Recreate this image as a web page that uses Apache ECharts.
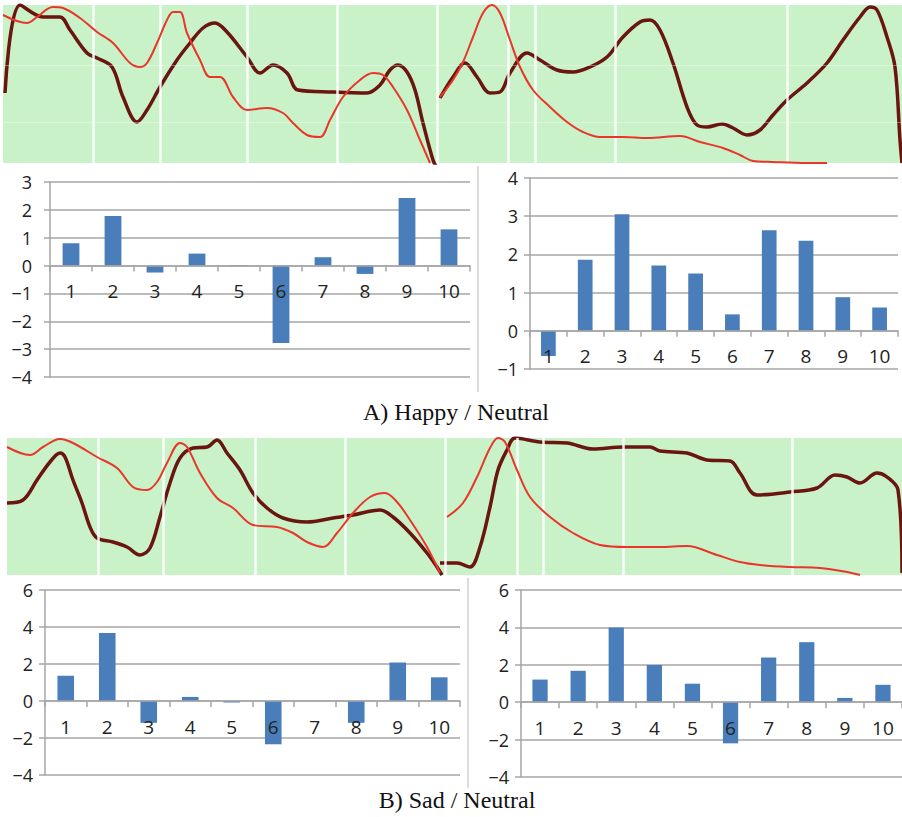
<!DOCTYPE html>
<html><head><meta charset="utf-8">
<script src="https://cdn.jsdelivr.net/npm/echarts@6/dist/echarts.min.js"></script>
<style>html,body{margin:0;padding:0;background:#fff}#c{width:902px;height:817px}</style>
</head><body><div id="c"></div>
<script>
// ---- top strips: time (frames) and normalized intensity ----
const tAL_d = [5,20,43,60,70,87,97,112,123,137,147,160,177,190,203,215,227,247,260,273,287,298,333,367,380,390,398,407,415,423,433,437];
const vAL_d = [70,158,146,146,133,110,105,96,66,41,53,76,103,120,135,140,131,106,90,98,90,73,71,70,78,93,98,91,73,40,3,-5];
const tAL_r = [3,27,37,53,63,80,97,113,130,140,147,157,167,173,180,187,200,210,220,233,247,267,283,293,307,320,330,343,360,373,383,393,407,420,430];
const vAL_r = [148,140,146,156,155,145,131,120,100,96,100,120,143,151,151,130,103,86,86,66,53,55,50,40,28,26,43,66,83,90,88,76,53,23,0];
const tAR_d = [440,453,465,477,490,500,510,527,540,557,573,590,607,623,640,650,660,673,687,697,707,722,733,747,760,773,787,807,827,843,860,870,877,887,895,900,902];
const vAR_d = [65,86,100,86,70,71,90,110,103,93,91,96,106,126,141,143,133,100,56,38,36,39,35,28,33,48,63,80,100,123,146,156,153,126,96,23,0];
const tAR_r = [440,453,463,473,483,492,500,510,520,533,550,567,583,600,623,647,680,700,723,740,753,773,807,827];
const vAR_r = [66,83,101,126,150,158,150,123,96,73,56,41,31,26,26,25,27,21,15,8,2,1,0,0];

const tBL_d = [7,23,37,50,60,65,73,82,90,97,113,127,140,150,160,170,180,193,207,217,227,240,253,267,283,307,333,353,380,393,410,427,437,442];
const vBL_d = [72,75,95,113,122,118,95,72,48,37,33,28,20,27,58,92,117,127,128,135,122,105,82,67,57,53,57,60,65,58,42,22,8,0];
const tBL_r = [7,30,43,60,73,97,117,133,147,157,167,180,187,200,217,233,253,277,293,307,323,337,353,370,385,397,410,427,440];
const vBL_r = [128,120,128,136,132,118,107,88,85,93,112,132,128,102,77,67,50,48,42,33,28,42,62,78,82,73,55,28,2];
const tBR_d = [440,457,470,480,490,498,507,515,540,567,593,623,650,660,687,707,730,740,757,790,817,835,847,860,877,887,898,902];
const vBR_d = [12,12,8,28,68,105,125,137,133,132,126,128,128,124,122,115,114,102,80,83,87,100,98,92,102,98,85,2];
const tBR_r = [447,463,477,490,498,505,517,530,550,573,600,627,660,687,717,740,760,790,820,847,860];
const vBR_r = [58,72,98,127,137,133,105,78,58,42,30,28,28,29,20,13,10,8,7,3,0];

const stripGridA = [93,160,247,337,437,508,535,615,787];
const stripGridB = [98,163,255,345,445,517,543,623,792];
const stripHGridA = [41,98];

// ---- bar charts ----
const categories = ['1','2','3','4','5','6','7','8','9','10'];
const happyLeft  = [0.8,1.78,-0.25,0.43,0.02,-2.78,0.3,-0.3,2.43,1.3];
const happyRight = [-0.66,1.86,3.05,1.71,1.5,0.43,2.63,2.36,0.88,0.61];
const sadLeft    = [1.37,3.68,-1.18,0.22,-0.08,-2.34,0,-1.18,2.08,1.28];
const sadRight   = [1.21,1.68,4.0,1.99,0.99,-2.2,2.39,3.21,0.23,0.93];

const DARK = '#6a1510', RED = '#e8362a', BLUE = '#4a7ebb', GRAY = '#a6a6a6';
const zip = (t, v) => t.map((x, i) => [x, v[i]]);
const neg = v => String(v).replace('-', '\u2212');

function lineSeries(xi, t, v, color, w, extra) {
  return Object.assign({
    type: 'line', xAxisIndex: xi, yAxisIndex: xi, data: zip(t, v),
    showSymbol: false, smooth: 0.35, clip: true, silent: true,
    lineStyle: { color: color, width: w }, z: w > 3 ? 4 : 5
  }, extra || {});
}
function vLines(arr) {
  return { silent: true, symbol: 'none', label: { show: false },
    lineStyle: { color: '#ffffff', width: 2.5, type: 'solid', opacity: 0.9 },
    data: arr.map(x => ({ xAxis: x })) };
}
const barGrids = [
  { left: 50, top: 182, width: 420, height: 195 },
  { left: 530, top: 178, width: 368, height: 191 },
  { left: 45, top: 590, width: 415, height: 185 },
  { left: 521, top: 590, width: 387, height: 187 }
];
function barAxes(k, min, max, interval) {
  const g = barGrids[k];
  // place the category axis (line, ticks, labels) at the value 0
  const off = -g.height * (0 - min) / (max - min);
  return {
    x: { type: 'category', gridIndex: k + 2, data: categories, z: 6, position: 'bottom', offset: off,
      axisLine: { onZero: false, lineStyle: { color: GRAY, width: 1.5 } },
      axisTick: { show: true, length: 6, lineStyle: { color: GRAY, width: 1.5 } },
      axisLabel: { fontSize: 19, color: '#222', margin: 16, fontFamily: 'Open Sans' },
      splitLine: { show: false } },
    y: { type: 'value', gridIndex: k + 2, min: min, max: max, interval: interval,
      axisLine: { show: true, lineStyle: { color: GRAY, width: 1.5 } },
      axisTick: { show: true, length: 6, lineStyle: { color: GRAY, width: 1.5 } },
      splitLine: { show: true, lineStyle: { color: GRAY, width: 1.5 } },
      axisLabel: { fontSize: 18, color: '#222', margin: 12, fontFamily: 'Open Sans', formatter: neg } }
  };
}
const bA1 = barAxes(0, -4, 3, 1), bA2 = barAxes(1, -1, 4, 1), bB1 = barAxes(2, -4, 6, 2), bB2 = barAxes(3, -4, 6, 2);
bA1.y.axisLabel.margin = 18;

const chart = echarts.init(document.getElementById('c'), null, { renderer: 'svg' });
chart.setOption({
  animation: false,
  backgroundColor: '#ffffff',
  grid: [
    { left: 3, top: 5, width: 899, height: 158, show: true, backgroundColor: '#c9f2c9', borderWidth: 0 },
    { left: 7, top: 438, width: 895, height: 137, show: true, backgroundColor: '#c9f2c9', borderWidth: 0 }
  ].concat(barGrids),
  xAxis: [
    { type: 'value', gridIndex: 0, min: 3, max: 902, show: false },
    { type: 'value', gridIndex: 1, min: 7, max: 902, show: false },
    bA1.x, bA2.x, bB1.x, bB2.x
  ],
  yAxis: [
    { type: 'value', gridIndex: 0, min: 0, max: 158, show: false },
    { type: 'value', gridIndex: 1, min: 0, max: 137, show: false },
    bA1.y, bA2.y, bB1.y, bB2.y
  ],
  series: [
    lineSeries(0, tAL_d, vAL_d, DARK, 3.5, { markLine: vLines(stripGridA) }),
    lineSeries(0, tAL_r, vAL_r, RED, 2, { markLine: { silent: true, symbol: 'none', label: { show: false },
      lineStyle: { color: '#ffffff', width: 1, type: 'solid', opacity: 0.35 },
      data: stripHGridA.map(y => ({ yAxis: y })) } }),
    lineSeries(0, tAR_d, vAR_d, DARK, 3.5),
    lineSeries(0, tAR_r, vAR_r, RED, 2),
    lineSeries(1, tBL_d, vBL_d, DARK, 3.5, { markLine: vLines(stripGridB) }),
    lineSeries(1, tBL_r, vBL_r, RED, 2),
    lineSeries(1, tBR_d, vBR_d, DARK, 3.5),
    lineSeries(1, tBR_r, vBR_r, RED, 2),
    { type: 'bar', xAxisIndex: 2, yAxisIndex: 2, data: happyLeft, barWidth: '40%', itemStyle: { color: BLUE }, z: 2 },
    { type: 'bar', xAxisIndex: 3, yAxisIndex: 3, data: happyRight, barWidth: '40%', itemStyle: { color: BLUE }, z: 2 },
    { type: 'bar', xAxisIndex: 4, yAxisIndex: 4, data: sadLeft, barWidth: '40%', itemStyle: { color: BLUE }, z: 2 },
    { type: 'bar', xAxisIndex: 5, yAxisIndex: 5, data: sadRight, barWidth: '40%', itemStyle: { color: BLUE }, z: 2 }
  ],
  graphic: [
    { type: 'line', shape: { x1: 478, y1: 166, x2: 478, y2: 392 }, style: { stroke: '#d0d0d0', lineWidth: 1.5 } },
    { type: 'line', shape: { x1: 468, y1: 578, x2: 468, y2: 788 }, style: { stroke: '#d0d0d0', lineWidth: 1.5 } },
    { type: 'text', x: 456, y: 412, style: { text: 'A) Happy / Neutral', fill: '#111', font: '24px "Liberation Serif"', textAlign: 'center', textVerticalAlign: 'middle' } },
    { type: 'text', x: 457, y: 800, style: { text: 'B) Sad / Neutral', fill: '#111', font: '24px "Liberation Serif"', textAlign: 'center', textVerticalAlign: 'middle' } }
  ]
});
</script></body></html>
